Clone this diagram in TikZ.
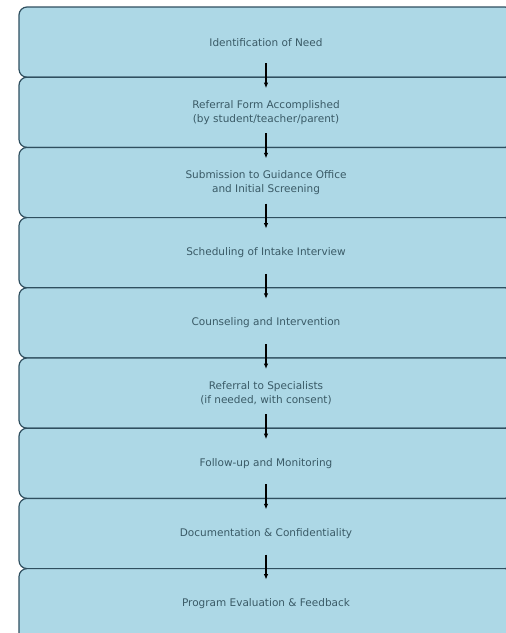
\documentclass[tikz,border=0pt]{standalone}
\usepackage{fontspec}
\setmainfont{DejaVu Sans}
\usetikzlibrary{arrows.meta}
\definecolor{boxfill}{HTML}{ADD8E6}
\definecolor{boxline}{HTML}{2F4F5F}
\definecolor{boxtext}{HTML}{3A5A66}
\begin{document}
\begin{tikzpicture}[x=1pt,y=1pt,
  stagebox/.style={draw=boxline,fill=boxfill,line width=1.2pt,rounded corners=8pt,
    minimum width=494pt,minimum height=70.2pt,inner sep=0pt,outer sep=0pt,
    align=center,text=boxtext,font=\fontsize{10.5}{14}\selectfont},
  flowarrow/.style={-{Latex[length=5.5pt,width=4.5pt]},line width=1.1pt,black}]
  \useasboundingbox (0,0) rectangle (506,-633);
  \clip (0,0) rectangle (506,-633);

  % Draw the stages, top to bottom
  \node[stagebox] (need)    at (266,-42.1)  {Identification of Need};
  \node[stagebox] (form)    at (266,-112.3) {Referral Form Accomplished\\(by student/teacher/parent)};
  \node[stagebox] (submit)  at (266,-182.5) {Submission to Guidance Office\\and Initial Screening};
  \node[stagebox] (intake)  at (266,-252.7) {Scheduling of Intake Interview};
  \node[stagebox] (counsel) at (266,-322.9) {Counseling and Intervention};
  \node[stagebox] (refer)   at (266,-393.1) {Referral to Specialists\\(if needed, with consent)};
  \node[stagebox] (follow)  at (266,-463.3) {Follow-up and Monitoring};
  \node[stagebox] (docs)    at (266,-533.5) {Documentation \& Confidentiality};
  % last stage runs off the bottom edge
  \node[stagebox,minimum height=90.2pt,text depth=22.5pt] (eval) at (266,-613.7) {Program Evaluation \& Feedback};

  % Draw arrows across each boundary
  \draw[flowarrow] ([yshift=14pt]need.south)    -- ([yshift=-11pt]form.north);
  \draw[flowarrow] ([yshift=14pt]form.south)    -- ([yshift=-11pt]submit.north);
  \draw[flowarrow] ([yshift=14pt]submit.south)  -- ([yshift=-11pt]intake.north);
  \draw[flowarrow] ([yshift=14pt]intake.south)  -- ([yshift=-11pt]counsel.north);
  \draw[flowarrow] ([yshift=14pt]counsel.south) -- ([yshift=-11pt]refer.north);
  \draw[flowarrow] ([yshift=14pt]refer.south)   -- ([yshift=-11pt]follow.north);
  \draw[flowarrow] ([yshift=14pt]follow.south)  -- ([yshift=-11pt]docs.north);
  \draw[flowarrow] ([yshift=14pt]docs.south)    -- ([yshift=-11pt]eval.north);
\end{tikzpicture}
\end{document}
